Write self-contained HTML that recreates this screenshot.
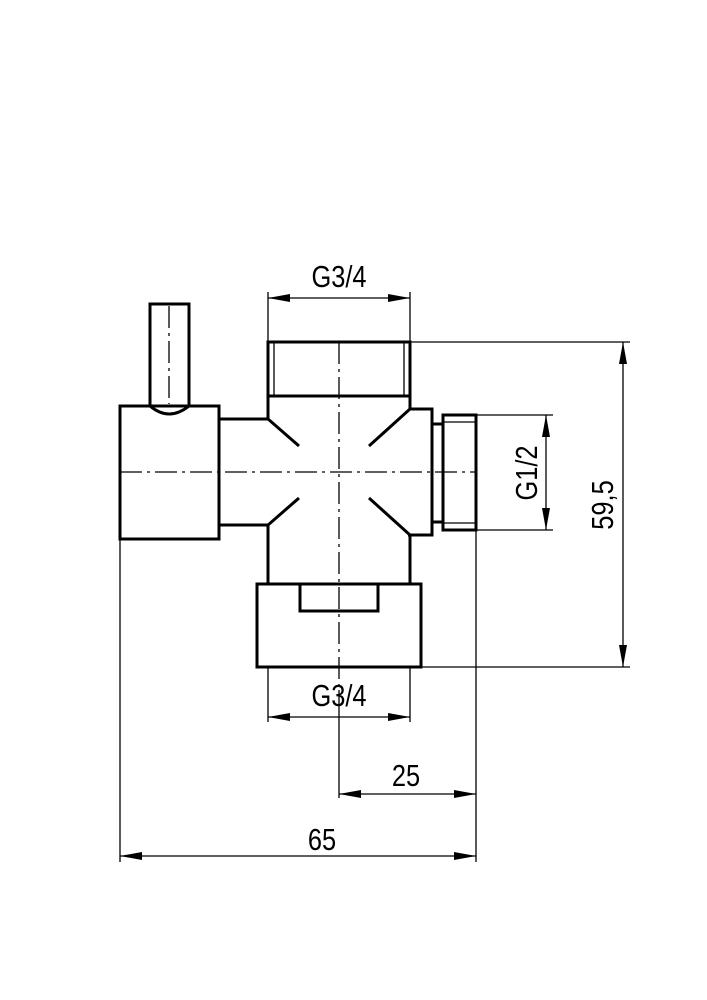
<!DOCTYPE html>
<html><head><meta charset="utf-8"><style>
html,body{margin:0;padding:0;background:#fff;}
svg{display:block;}
text{font-family:"Liberation Sans",sans-serif;font-size:31px;fill:#000;}
</style></head><body>
<svg width="707" height="1000" viewBox="0 0 707 1000" xmlns="http://www.w3.org/2000/svg">
<defs>
<marker id="a" viewBox="0 0 22 8" refX="22" refY="4" markerWidth="22" markerHeight="8" markerUnits="userSpaceOnUse" orient="auto"><path d="M0,0 L22,4 L0,8 Z" fill="#000"/></marker>
<marker id="b" viewBox="0 0 22 8" refX="0" refY="4" markerWidth="22" markerHeight="8" markerUnits="userSpaceOnUse" orient="auto"><path d="M22,0 L0,4 L22,8 Z" fill="#000"/></marker>
</defs>
<g fill="none" stroke="#000" stroke-width="3">
<path d="M150,406 V304 H189 V406"/>
<path d="M150,406 Q169,422 189,406"/>
<rect x="120" y="406" width="99" height="133"/>
<path d="M219,419 H268 M219,525 H268"/>
<rect x="268" y="342" width="142" height="54"/>
<path d="M268,396 V419 L299,446 M268,584 V525 L299,498"/>
<path d="M410,396 V409 L369,446 M410,584 V535 L369,498"/>
<path d="M410,409 H432 V535 H408"/>
<path d="M432,424 H443 M432,522 H443"/>
<rect x="443" y="415" width="33" height="115"/>
<rect x="257" y="584" width="164" height="83"/>
<path d="M300,584 V611 H378 V584"/>
</g>
<g fill="none" stroke="#000" stroke-width="1.3">
<path d="M274,342 V396 M404,342 V396 M443,422 H476 M443,523 H476"/>
</g>
<g stroke="#000" stroke-width="1.3" stroke-dasharray="22,5,3,5">
<path d="M339,342 V690"/>
<path d="M120,472 H476"/>
<path d="M169,306 V404"/>
</g>
<g stroke="#000" stroke-width="1.3" fill="none">
<path d="M339,690 V798"/>
<path d="M268,292 V342 M410,292 V342"/>
<path d="M410,342 H630 M421,667 H630"/>
<path d="M476,415 H553 M476,530 H553"/>
<path d="M268,667 V722 M410,667 V722"/>
<path d="M476,530 V862 M120,539 V862"/>
<path d="M268,298 H410" marker-start="url(#b)" marker-end="url(#a)"/>
<path d="M268,717 H410" marker-start="url(#b)" marker-end="url(#a)"/>
<path d="M339,794 H476" marker-start="url(#b)" marker-end="url(#a)"/>
<path d="M120,856 H476" marker-start="url(#b)" marker-end="url(#a)"/>
<path d="M623,342 V667" marker-start="url(#b)" marker-end="url(#a)"/>
<path d="M546,415 V530" marker-start="url(#b)" marker-end="url(#a)"/>
</g>
<text transform="translate(339,287) scale(0.82,1)" text-anchor="middle">G3/4</text>
<text transform="translate(339,706) scale(0.82,1)" text-anchor="middle">G3/4</text>
<text transform="translate(406,786) scale(0.82,1)" text-anchor="middle">25</text>
<text transform="translate(322,850) scale(0.82,1)" text-anchor="middle">65</text>
<text transform="translate(537,473) rotate(-90) scale(0.82,1)" text-anchor="middle">G1/2</text>
<text transform="translate(613,505) rotate(-90) scale(0.82,1)" text-anchor="middle">59,5</text>
</svg>
</body></html>
